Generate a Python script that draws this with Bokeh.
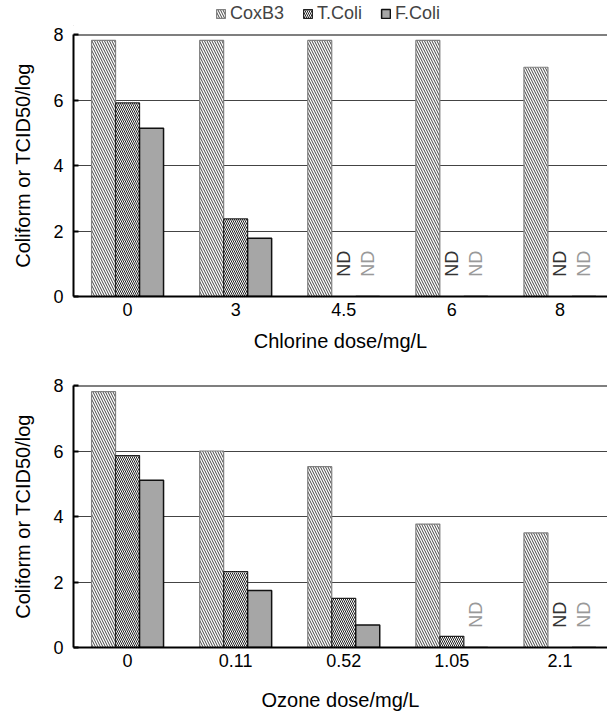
import numpy as np
from bokeh.plotting import figure
from bokeh.models import ColumnDataSource, Range1d, FixedTicker, Span, Legend, LegendItem
from bokeh.layouts import column
from bokeh.transform import dodge
from bokeh.core.properties import value
from bokeh.embed import file_html
from bokeh.resources import INLINE

chlorine_doses = ["0", "3", "4.5", "6", "8"]
chlorine_coxb3 = [7.82, 7.82, 7.82, 7.82, 7.0]
chlorine_tcoli = [5.91, 2.37, 0, 0, 0]
chlorine_fcoli = [5.14, 1.78, 0, 0, 0]
chlorine_nd_t = [False, False, True, True, True]
chlorine_nd_f = [False, False, True, True, True]

ozone_doses = ["0", "0.11", "0.52", "1.05", "2.1"]
ozone_coxb3 = [7.81, 6.0, 5.52, 3.77, 3.5]
ozone_tcoli = [5.86, 2.32, 1.5, 0.34, 0]
ozone_fcoli = [5.11, 1.74, 0.69, 0, 0]
ozone_nd_t = [False, False, False, False, True]
ozone_nd_f = [False, False, False, True, True]

series_names = ["CoxB3", "T.Coli", "F.Coli"]
y_ticks = [0, 2, 4, 6, 8]

FONT = "Liberation Sans"
BW = 0.222

STYLE_COX = dict(fill_color="white", line_color="#808080", line_width=1.2,
                 hatch_pattern="\\", hatch_color="#444444", hatch_scale=5, hatch_weight=1)
STYLE_T = dict(fill_color="white", line_color="#222222", line_width=1.2,
               hatch_pattern="\\", hatch_color="#222222", hatch_scale=4, hatch_weight=1)
STYLE_F = dict(fill_color="#a6a6a6", line_color="#111111", line_width=1.5)


def make_panel(doses, cox, tco, fco, nd_t, nd_f, xlabel, top, bottom, xlab_standoff):
    idx = list(range(len(doses)))
    src = ColumnDataSource(dict(x=idx, cox=cox, tco=tco, fco=fco))
    p = figure(frame_width=534, frame_height=262, output_backend="svg", toolbar_location=None,
               x_range=Range1d(-0.5, 4.44), y_range=Range1d(0, 8),
               min_border_left=73, min_border_right=0, min_border_top=top, min_border_bottom=bottom)
    p.outline_line_color = None
    p.vbar(x=dodge("x", -BW, range=p.x_range), top="cox", width=BW, source=src, **STYLE_COX)
    p.vbar(x="x", top="tco", width=BW, source=src, **STYLE_T)
    p.vbar(x=dodge("x", BW, range=p.x_range), top="fco", width=BW, source=src, **STYLE_F)

    ndt_x = [i for i, f in zip(idx, nd_t) if f]
    ndf_x = [i + BW for i, f in zip(idx, nd_f) if f]
    if ndt_x:
        p.text(x=ndt_x, y=[1.0] * len(ndt_x), text=["ND"] * len(ndt_x), angle=np.pi / 2,
               text_align="center", text_baseline="middle", text_color="#333333",
               text_font=value(FONT), text_font_size="18px")
    if ndf_x:
        p.text(x=ndf_x, y=[1.0] * len(ndf_x), text=["ND"] * len(ndf_x), angle=np.pi / 2,
               text_align="center", text_baseline="middle", text_color="#999999",
               text_font=value(FONT), text_font_size="18px")

    p.add_layout(Span(location=8, dimension="width", line_color="black", line_width=2))

    p.xgrid.grid_line_color = None
    p.ygrid.grid_line_color = "#444444"
    p.ygrid.grid_line_width = 1.2
    p.ygrid.ticker = FixedTicker(ticks=y_ticks)

    p.xaxis.ticker = FixedTicker(ticks=idx)
    p.xaxis.major_label_overrides = {i: d for i, d in zip(idx, doses)}
    p.xaxis.major_tick_line_color = None
    p.xaxis.minor_tick_line_color = None
    p.xaxis.axis_line_width = 2
    p.xaxis.axis_line_color = "black"
    p.xaxis.major_label_standoff = 0
    p.xaxis.axis_label = xlabel
    p.xaxis.axis_label_standoff = xlab_standoff

    p.yaxis.ticker = FixedTicker(ticks=y_ticks)
    p.yaxis.major_tick_in = 5
    p.yaxis.major_tick_out = 0
    p.yaxis.major_tick_line_width = 2
    p.yaxis.minor_tick_line_color = None
    p.yaxis.axis_line_width = 2
    p.yaxis.axis_line_color = "black"
    p.yaxis.major_label_standoff = 10
    p.yaxis.axis_label = "Coliform or TCID50/log"
    p.yaxis.axis_label_standoff = 16

    for ax in (p.xaxis, p.yaxis):
        ax.major_label_text_font = FONT
        ax.major_label_text_font_size = "18px"
        ax.major_label_text_color = "black"
        ax.axis_label_text_font = FONT
        ax.axis_label_text_font_size = "20px"
        ax.axis_label_text_font_style = "normal"
        ax.axis_label_text_color = "black"
    return p


# legend strip
pl = figure(width=607, height=26, output_backend="svg", toolbar_location=None,
            x_range=Range1d(0, 1), y_range=Range1d(0, 1),
            min_border_left=0, min_border_right=0, min_border_top=0, min_border_bottom=0)
pl.axis.visible = False
pl.grid.visible = False
pl.outline_line_color = None
offscreen = ColumnDataSource(dict(x=[-10], top=[-10]))
l1 = pl.vbar(x="x", top="top", width=0.1, source=offscreen, **STYLE_COX)
l2 = pl.vbar(x="x", top="top", width=0.1, source=offscreen, **STYLE_T)
l3 = pl.vbar(x="x", top="top", width=0.1, source=offscreen, **STYLE_F)
leg = Legend(items=[LegendItem(label=series_names[0], renderers=[l1]),
                    LegendItem(label=series_names[1], renderers=[l2]),
                    LegendItem(label=series_names[2], renderers=[l3])],
             orientation="horizontal", location=(142, 2),
             label_text_font=FONT, label_text_font_size="18px",
             glyph_width=11, glyph_height=11, spacing=18, padding=0, margin=0,
             label_standoff=4, label_height=18, border_line_color=None, background_fill_alpha=0)
pl.add_layout(leg)

p1 = make_panel(chlorine_doses, chlorine_coxb3, chlorine_tcoli, chlorine_fcoli,
                chlorine_nd_t, chlorine_nd_f, "Chlorine dose/mg/L", 8, 64, 11)
p2 = make_panel(ozone_doses, ozone_coxb3, ozone_tcoli, ozone_fcoli,
                ozone_nd_t, ozone_nd_f, "Ozone dose/mg/L", 25, 68, 19)

layout = column(pl, p1, p2, spacing=0)
open("out.html", "w").write(file_html(layout, INLINE))
